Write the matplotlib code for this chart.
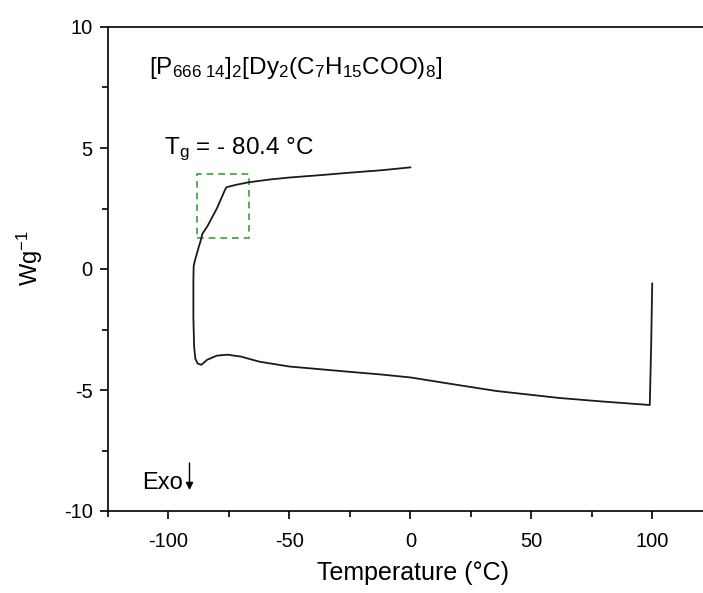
import matplotlib.pyplot as plt
from matplotlib.ticker import MultipleLocator
from matplotlib.patches import Rectangle

plt.rcParams['font.family'] = ['Liberation Sans', 'DejaVu Sans']
plt.rcParams['mathtext.fontset'] = 'custom'
plt.rcParams['mathtext.rm'] = 'Liberation Sans'
plt.rcParams['mathtext.it'] = 'Liberation Sans:italic'
plt.rcParams['mathtext.bf'] = 'Liberation Sans:bold'
plt.rcParams['axes.unicode_minus'] = False

# DSC trace (temperature in °C, heat flow in W/g)
temp = [100.0, 99.6, 99.0, 80.0, 61.6, 35.5, 15.0, 0.0, -12.0, -25.0, -50.0, -62.4,
        -70.0, -75.6, -80.0, -84.0, -86.4, -88.0, -88.9, -89.4, -89.7, -89.7,
        -89.6, -89.2, -88.5, -87.5, -86.6, -86.0, -84.0, -80.0, -76.5, -76.0,
        -72.0, -67.0, -58.0, -50.0, -37.0, -25.0, -12.0, 0.0]
heat = [-0.6, -3.0, -5.62, -5.48, -5.33, -5.04, -4.72, -4.48, -4.36, -4.25, -4.03, -3.83,
        -3.62, -3.54, -3.58, -3.75, -3.96, -3.90, -3.70, -3.20, -2.0, -0.5,
        0.1, 0.3, 0.55, 0.9, 1.2, 1.45, 1.75, 2.5, 3.3, 3.38,
        3.48, 3.58, 3.70, 3.78, 3.88, 3.98, 4.08, 4.2]

# glass transition box (data units)
box_x = [-88.4, -66.9]
box_y = [1.29, 3.92]

fig = plt.figure(figsize=(7.03, 5.93), dpi=100)
ax = fig.add_axes([108 / 703, 1 - 511 / 593, 1 - 108 / 703, 484 / 593])

ax.plot(temp, heat, color='#1a1a1a', lw=1.3)
ax.add_patch(Rectangle((box_x[0], box_y[0]), box_x[1] - box_x[0], box_y[1] - box_y[0],
                       fill=False, ls=(0, (4, 3)), lw=1.2, ec='#3aa03a'))

ax.set_xlim(-125, 121)
ax.set_ylim(-10, 10)
ax.xaxis.set_major_locator(MultipleLocator(50))
ax.xaxis.set_minor_locator(MultipleLocator(25))
ax.yaxis.set_major_locator(MultipleLocator(5))
ax.yaxis.set_minor_locator(MultipleLocator(2.5))
ax.spines['right'].set_visible(False)
for s in ['left', 'bottom', 'top']:
    ax.spines[s].set_linewidth(1.2)
ax.tick_params(which='major', direction='out', length=6, width=1.2, labelsize=14.5)
ax.tick_params(axis='x', which='major', pad=9)
ax.tick_params(axis='y', which='major', pad=5)
ax.tick_params(which='minor', direction='out', length=4, width=1.2)

ax.set_xlabel('Temperature (°C)', fontsize=18)
ax.xaxis.set_label_coords((413 - 108) / 595, -50 / 484)
ax.set_ylabel(r'Wg$^{\mathregular{-1}}$', fontsize=17)
ax.yaxis.set_label_coords(-63 / 595, (511 - 258) / 484)

ax.text(-108, 8.3, r'[P$_{666\ 14}$]$_2$[Dy$_2$(C$_7$H$_{15}$COO)$_8$]',
        fontsize=17.5, va='center', ha='left')
ax.text(-102, 4.95, r'T$_\mathrm{g}$ = - 80.4 °C', fontsize=17.5, va='center', ha='left')
ax.text(-111, -8.85, 'Exo', fontsize=17, va='center', ha='left')
ax.annotate('', xy=(-91.3, -9.25), xytext=(-91.3, -7.9),
            arrowprops=dict(arrowstyle='-|>', color='black', lw=1.0, mutation_scale=11))

fig.savefig('out.png', dpi=100)
